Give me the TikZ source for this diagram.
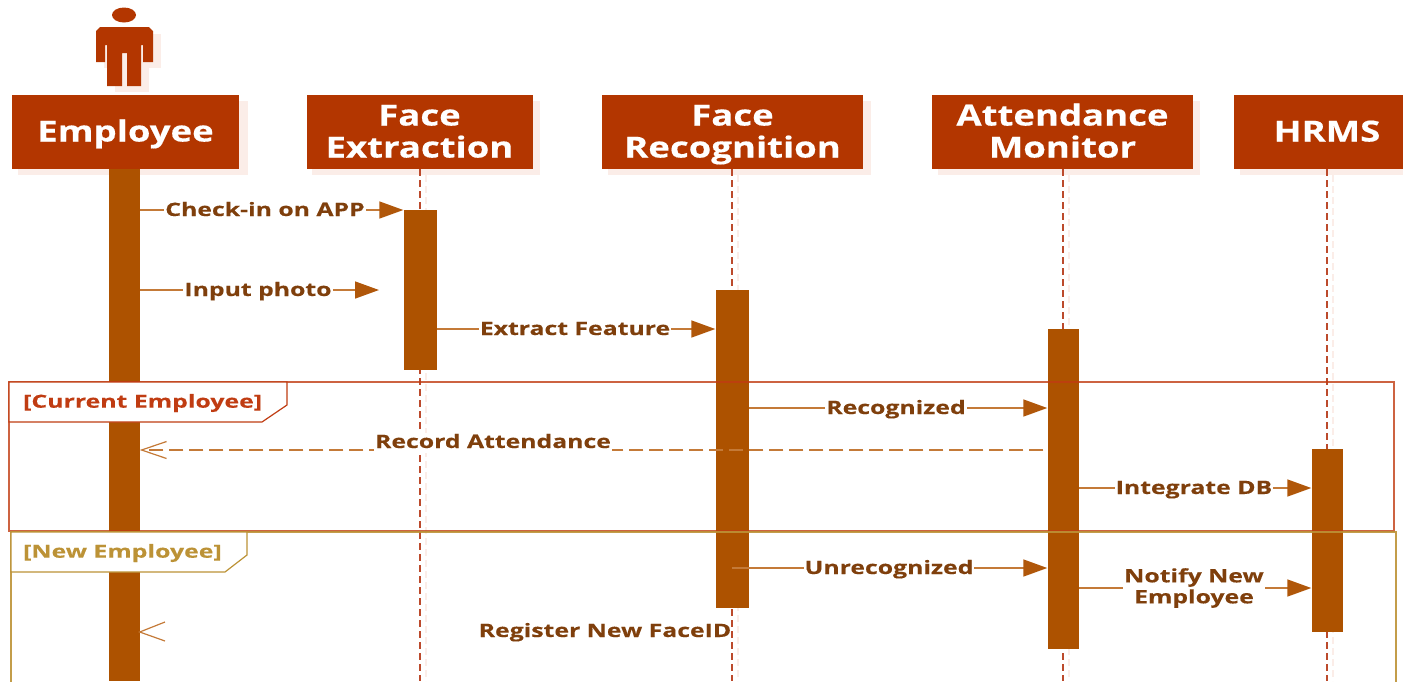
\documentclass[tikz,border=0pt]{standalone}
\usepackage{fontspec}
\setmainfont{Open Sans}
\newfontfamily\wideh{Open Sans}[FakeStretch=1.26,FakeBold=0.4]
\newfontfamily\widem{Open Sans}[FakeStretch=1.34,FakeBold=0.3]
\newfontfamily\widef{Open Sans}[FakeStretch=1.38,FakeBold=0.2]
\usetikzlibrary{arrows.meta}
\definecolor{headc}{HTML}{B33600}
\definecolor{barc}{HTML}{AD5200}
\definecolor{linec}{HTML}{C47A38}
\definecolor{tipc}{HTML}{B0570A}
\definecolor{txtc}{HTML}{7F3F0C}
\definecolor{lifec}{HTML}{BC4A2C}
\definecolor{curc}{HTML}{C03C12}
\definecolor{newc}{HTML}{BC9236}
\definecolor{shadc}{HTML}{FBEDE8}
\newcommand{\hdtop}{\rule{0pt}{26pt}}
\newcommand{\hdbot}{\vphantom{g}}
\tikzset{
  x=1pt,y=-1pt,
  headbox/.style={fill=headc,text=white,inner sep=0,align=center,minimum height=74pt,font=\wideh\bfseries\fontsize{29}{32}\selectfont},
  headshadow/.style={fill=shadc,draw=none},
  actbar/.style={fill=barc,draw=none,inner sep=0,anchor=north},
  lifeline/.style={draw=lifec,line width=1.3pt,dash pattern=on 7pt off 4pt},
  lifeshadow/.style={draw=shadc,line width=1.3pt,dash pattern=on 7pt off 4pt},
  msg/.style={draw=linec,line width=1.5pt,-{Triangle[length=24pt,width=17pt,fill=tipc,color=tipc]}},
  ret/.style={draw=linec,line width=1.5pt,dash pattern=on 14pt off 6pt,-{Straight Barb[length=25pt,width=17pt,line width=1.2pt,color=linec]}},
  msgbase/.style={fill=white,text=txtc,inner sep=1pt,align=center,font=\widem\bfseries\fontsize{18.5}{21}\selectfont},
  msglabel/.style={msgbase,text height=14pt,text depth=4pt},
  framelabel/.style={inner sep=0,anchor=west,font=\widef\bfseries\fontsize{18}{21}\selectfont},
}
\begin{document}
\begin{tikzpicture}
\useasboundingbox (0,0) rectangle (1403,681);
\clip (0,0) rectangle (1403,681);
% message levels
\coordinate (m1) at (0,210);
\coordinate (m2) at (0,290);
\coordinate (m3) at (0,329);
\coordinate (m4) at (0,408);
\coordinate (m5) at (0,450);
\coordinate (m6) at (0,488);
\coordinate (m7) at (0,568);
\coordinate (m8) at (0,588);
\coordinate (m9) at (0,632);
% actor
\fill[shadc] (104,34) rectangle (161,68);
\fill[shadc] (115,68) rectangle (149,92);
\fill[headc] (124,15) ellipse (12 and 7.5);
\fill[headc] (96,62) -- (96,31) -- (100,27) -- (149,27) -- (153,31) -- (153,62) -- (143,62) -- (143,45) -- (141,45) -- (141,86) -- (127,86) -- (127,53) -- (122,53) -- (122,86) -- (107,86) -- (107,45) -- (105,45) -- (105,62) -- cycle;
% shadows of heads
\fill[headshadow] (18,101) rectangle (248,175);
\fill[headshadow] (312,101) rectangle (540,175);
\fill[headshadow] (608,101) rectangle (871,175);
\fill[headshadow] (938,101) rectangle (1200,175);
\fill[headshadow] (1240,101) rectangle (1403,175);
% lifelines
\draw[lifeshadow] (426,175) -- (426,681);
\draw[lifeshadow] (738,175) -- (738,681);
\draw[lifeshadow] (1069,175) -- (1069,681);
\draw[lifeshadow] (1333,175) -- (1333,681);
% head boxes
\node[headbox,minimum width=227pt] (emp) at (125.5,132) {\hdtop Employee\hdbot};
\node[headbox,minimum width=226pt] (fe) at (419.5,132) {\hdtop Face\\Extraction\hdbot};
\node[headbox,minimum width=261pt] (fr) at (732.5,132) {\hdtop Face\\Recognition\hdbot};
\node[headbox,minimum width=261pt] (am) at (1062.5,132) {\hdtop Attendance\\Monitor\hdbot};
\node[headbox,minimum width=186pt] (hr) at (1327,132) {\hdtop HRMS\hdbot};
\draw[lifeline] (fe.south -| 420,0) -- (420,681);
\draw[lifeline] (fr.south -| 732,0) -- (732,681);
\draw[lifeline] (am.south -| 1063,0) -- (1063,681);
\draw[lifeline] (hr.south) -- (1327,681);
% activation bars
\node[actbar,minimum width=31pt,minimum height=512pt] (empbar) at (124,169) {};
\node[actbar,minimum width=33pt,minimum height=160pt] (febar) at (420,210) {};
\node[actbar,minimum width=33pt,minimum height=318pt] (frbar) at (732,290) {};
\node[actbar,minimum width=31pt,minimum height=320pt] (ambar) at (1063,329) {};
\node[actbar,minimum width=31pt,minimum height=183pt] (hrbar) at (1327,449) {};
% free ends
\coordinate (inputend) at (379,290);
% frames
\draw[curc,line width=1.2pt,opacity=.8] (9,382) rectangle (1394,531);
\draw[newc,line width=1.2pt,opacity=.9] (11,532) rectangle (1396,700);
\draw[curc,line width=1.2pt,fill=white] (9,382) -- (287,382) -- (287,405) -- (262,422) -- (9,422) -- cycle;
\draw[newc,line width=1.2pt,fill=white] (11,532) -- (247,532) -- (247,555) -- (225,572) -- (11,572) -- cycle;
\node[framelabel,text=curc] (curlab) at (23,403) {[Current Employee]};
\node[framelabel,text=newc] (newlab) at (23,553) {[New Employee]};
% messages
\draw[msg] (empbar.east |- m1) -- (febar.west |- m1);
\node[msglabel] (l1) at (265,211) {Check-in on APP};
\draw[msg] (empbar.east |- m2) -- (inputend);
\node[msglabel] (l2) at (258,291) {Input photo};
\draw[msg] (febar.east |- m3) -- (frbar.west |- m3);
\node[msglabel] (l3) at (575,330) {Extract Feature};
\draw[msg] (frbar.east |- m4) -- (ambar.west |- m4);
\node[msglabel] (l4) at (896,409) {Recognized};
\draw[ret] ([xshift=-4pt]ambar.west |- m5) -- (empbar.east |- m5);
\node[msglabel] (l5) at (493,443) {Record Attendance};
\draw[msg] (ambar.east |- m6) -- (hrbar.west |- m6);
\node[msglabel] (l6) at (1194,489) {Integrate DB};
\draw[msg] (frbar.center |- m7) -- (ambar.west |- m7);
\node[msglabel] (l7) at (889,569) {Unrecognized};
\draw[msg] (ambar.east |- m8) -- (hrbar.west |- m8);
\node[msgbase] (l8) at (1194,588) {Notify New\\Employee};
\draw[draw=linec,line width=1.2pt] (165,622) -- (empbar.east |- m9) -- (165,641);
\node[msglabel,fill=none] (l9) at (605,632) {Register New FaceID};
\end{tikzpicture}
\end{document}
